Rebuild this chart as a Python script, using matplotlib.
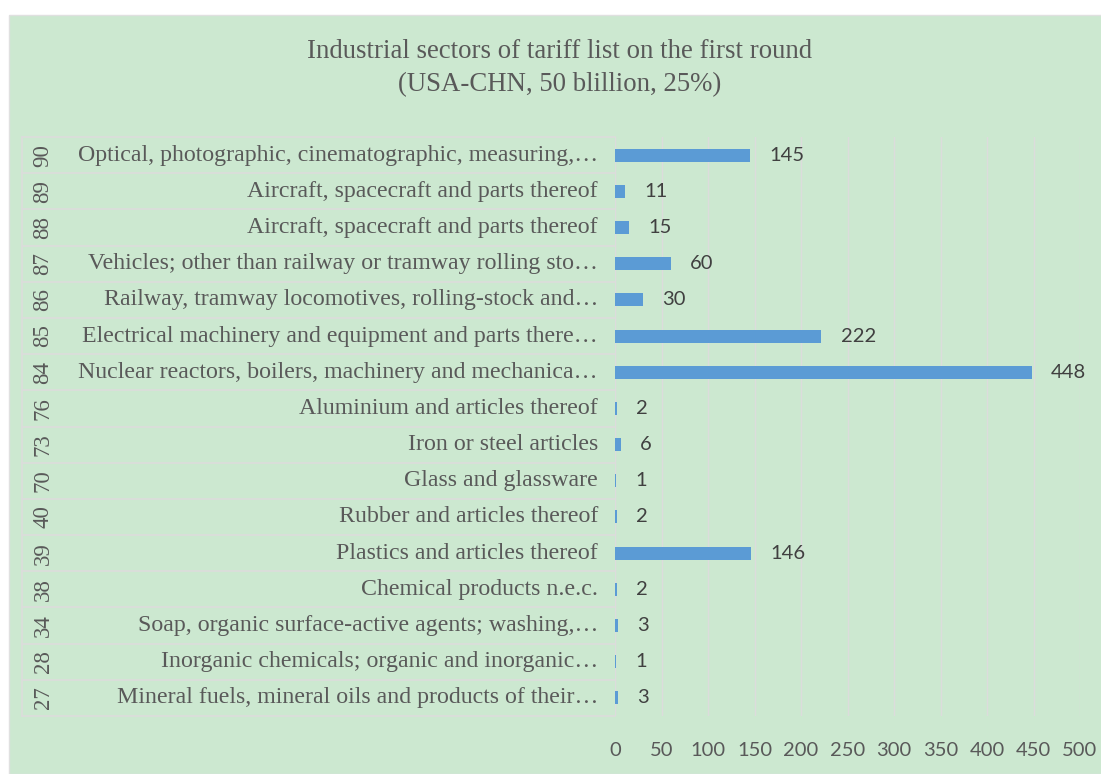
import matplotlib.pyplot as plt
from matplotlib.patches import Rectangle
from matplotlib.lines import Line2D
from matplotlib.transforms import blended_transform_factory

codes = ["27", "28", "34", "38", "39", "40", "70", "73", "76",
         "84", "85", "86", "87", "88", "89", "90"]
sectors = [
    "Mineral fuels, mineral oils and products of their\u2026",
    "Inorganic chemicals; organic and inorganic\u2026",
    "Soap, organic surface-active agents; washing,\u2026",
    "Chemical products n.e.c.",
    "Plastics and articles thereof",
    "Rubber and articles thereof",
    "Glass and glassware",
    "Iron or steel articles",
    "Aluminium and articles thereof",
    "Nuclear reactors, boilers, machinery and mechanica\u2026",
    "Electrical machinery and equipment and parts there\u2026",
    "Railway, tramway locomotives, rolling-stock and\u2026",
    "Vehicles; other than railway or tramway rolling sto\u2026",
    "Aircraft, spacecraft and parts thereof",
    "Aircraft, spacecraft and parts thereof",
    "Optical, photographic, cinematographic, measuring,\u2026",
]
counts = [3, 1, 3, 2, 146, 2, 1, 6, 2, 448, 222, 30, 60, 15, 11, 145]
xticks = list(range(0, 501, 50))

bg = "#CCE8D0"
grid = "#DCDCDC"
bar_color = "#5B9BD5"
text_grey = "#595959"
serif = ["Liberation Serif", "DejaVu Serif"]
sans = ["Lato", "DejaVu Sans"]

fig = plt.figure(figsize=(11.01, 7.74), dpi=100, facecolor="white")
fig.patches.append(Rectangle((9 / 1101, 0), 1, 1 - 15 / 774,
                             transform=fig.transFigure, facecolor=bg,
                             edgecolor="#E0E0E0", lw=1, zorder=-10))

W, H = 1101, 774
x0, x500 = 615, 1080
ytop, ybot = 137, 716
ax = fig.add_axes([x0 / W, 1 - ybot / H, (x500 - x0) / W, (ybot - ytop) / H])
ax.set_facecolor("none")

n = len(counts)
ypos = list(range(n))
ax.barh(ypos, counts, height=0.36, color=bar_color, zorder=3)
ax.set_xlim(0, 500)
ax.set_ylim(-0.5, n - 0.5)

for y, v in zip(ypos, counts):
    ax.annotate(str(v), (v, y), xytext=(14, 0), textcoords="offset points",
                ha="left", va="center", fontsize=14.5, color="#404040",
                family=sans)

ax.set_xticks(xticks)
ax.set_xticklabels([str(t) for t in xticks], fontsize=14.5, color=text_grey,
                   family=sans)
ax.tick_params(axis="x", length=0, pad=19)
ax.set_yticks([])
ax.grid(axis="x", color=grid, lw=1, zorder=0)
for s in ax.spines.values():
    s.set_visible(False)
ax.axvline(0, color=grid, lw=1.2, zorder=1)

# category table on the left: code column and sector names
tr = blended_transform_factory(fig.transFigure, ax.transData)
for y, c, name in zip(ypos, codes, sectors):
    ax.text(43 / W, y, c, transform=tr, rotation=90, ha="center",
            va="center", fontsize=16.5, color=text_grey, family=serif,
            clip_on=False)
    ax.text(598 / W, y, name, transform=tr, ha="right", va="center",
            fontsize=17.2, color=text_grey, family=serif, clip_on=False)

for k in range(n + 1):
    ax.add_line(Line2D([22 / W, x0 / W], [k - 0.5, k - 0.5], transform=tr,
                       color=grid, lw=1.2, clip_on=False))
ax.add_line(Line2D([22 / W, 22 / W], [-0.5, n - 0.5], transform=tr,
                   color=grid, lw=1.2, clip_on=False))

fig.text(560 / W, 1 - 52 / H, "Industrial sectors of tariff list on the first round",
         ha="center", va="center", fontsize=19.3, color=text_grey, family=serif)
fig.text(560 / W, 1 - 85 / H, "(USA-CHN, 50 blillion, 25%)",
         ha="center", va="center", fontsize=19.3, color=text_grey, family=serif)

fig.savefig("out.png", dpi=100, facecolor="white")
